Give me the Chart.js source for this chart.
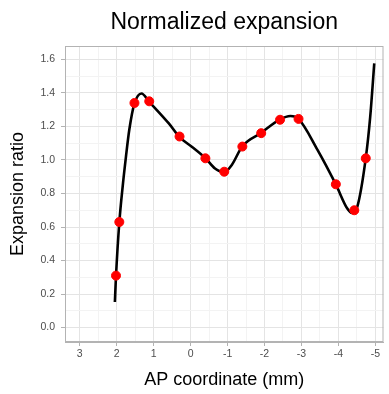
<!DOCTYPE html>
<html>
<head>
<meta charset="utf-8">
<script src="https://cdn.jsdelivr.net/npm/chart.js@4/dist/chart.umd.min.js"></script>
<style>
  html, body { margin: 0; padding: 0; background: #fff; }
</style>
</head>
<body>
<canvas id="chart" width="389" height="394"></canvas>
<script>
// Measured points (AP coordinate in mm, expansion ratio)
const apCoord = [2.02, 1.93, 1.52, 1.12, 0.30, -0.40, -0.91, -1.40, -1.91, -2.42, -2.92, -3.93, -4.43, -4.74];
const expRatio = [0.31, 0.63, 1.34, 1.35, 1.14, 1.01, 0.93, 1.08, 1.16, 1.24, 1.245, 0.855, 0.70, 1.01];

// Smoothed fit curve
const curveX = [2.05, 2.02, 1.93, 1.84, 1.75, 1.66, 1.52, 1.33, 1.12, 0.59, 0.30, -0.04, -0.40, -0.66, -0.91, -1.11, -1.40, -1.91, -2.42, -2.70, -2.92, -3.43, -3.93, -4.24, -4.37, -4.51, -4.74, -4.86, -4.97];
const curveY = [0.153, 0.306, 0.627, 0.84, 1.02, 1.18, 1.337, 1.397, 1.347, 1.218, 1.136, 1.078, 1.011, 0.949, 0.927, 0.969, 1.082, 1.162, 1.242, 1.262, 1.245, 1.062, 0.854, 0.71, 0.684, 0.72, 1.011, 1.257, 1.576];

const xTicks = [3, 2, 1, 0, -1, -2, -3, -4, -5];
const yTicks = [0, 0.2, 0.4, 0.6, 0.8, 1.0, 1.2, 1.4, 1.6];

const FONT = "'Liberation Sans', Arial, sans-serif";

// major ticks plus ggplot-style minor breaks halfway between them
function withMinor(majors) {
    const s = majors.slice().sort((a, b) => a - b);
    const out = [];
    s.forEach((v, i) => {
        out.push({ value: v, minor: false });
        if (i < s.length - 1) out.push({ value: (v + s[i + 1]) / 2, minor: true });
    });
    return out;
}

const panelBorder = {
    id: "panelBorder",
    afterDraw(chart) {
        const { ctx, chartArea: a } = chart;
        ctx.save();
        ctx.strokeStyle = "#b3b3b3";
        ctx.lineWidth = 1;
        ctx.strokeRect(a.left + 0.5, a.top + 0.5, a.right - a.left - 1, a.bottom - a.top - 1);
        ctx.restore();
    }
};

const gridColor = c => (c.tick && c.tick.minor ? "#f3f3f3" : "#e4e4e4");
const tickColor = c => (c.tick && c.tick.minor ? "rgba(0,0,0,0)" : "#b3b3b3");

new Chart(document.getElementById("chart"), {
    type: "scatter",
    data: {
        datasets: [
            {
                label: "points",
                data: apCoord.map((x, i) => ({ x: x, y: expRatio[i] })),
                backgroundColor: "#ff0000",
                borderColor: "#ff0000",
                pointRadius: 4.5,
                order: 0
            },
            {
                label: "fit",
                type: "line",
                data: curveX.map((x, i) => ({ x: x, y: curveY[i] })),
                borderColor: "#000000",
                borderWidth: 2.6,
                pointRadius: 0,
                cubicInterpolationMode: "monotone",
                fill: false,
                order: 1
            }
        ]
    },
    options: {
        responsive: false,
        animation: false,
        layout: { padding: { left: 0, right: 3, top: 0, bottom: 0 } },
        plugins: {
            legend: { display: false },
            tooltip: { enabled: false },
            title: {
                display: true,
                text: "Normalized expansion",
                fullSize: false,
                color: "#000",
                font: { family: FONT, size: 23, weight: "normal" },
                padding: { top: 9, bottom: 9.4 }
            }
        },
        scales: {
            x: {
                type: "linear",
                reverse: true,
                min: -5.22,
                max: 3.4,
                afterFit: s => { s.height = 52; },
                afterBuildTicks: s => { s.ticks = withMinor(xTicks); },
                ticks: {
                    color: "#4d4d4d",
                    font: { family: FONT, size: 10.5 },
                    padding: 2,
                    maxRotation: 0,
                    autoSkip: false,
                    callback: (v, i, t) => (t[i].minor ? "" : String(v))
                },
                grid: { color: gridColor, tickColor: tickColor, tickLength: 4, lineWidth: 1 },
                border: { color: "#b3b3b3" },
                title: {
                    display: true,
                    text: "AP coordinate (mm)",
                    color: "#000",
                    font: { family: FONT, size: 18 },
                    padding: { top: 0, bottom: 3 }
                }
            },
            y: {
                type: "linear",
                min: -0.086,
                max: 1.68,
                afterFit: s => { s.width = 65; },
                afterBuildTicks: s => { s.ticks = withMinor(yTicks); },
                ticks: {
                    color: "#4d4d4d",
                    font: { family: FONT, size: 10.5 },
                    padding: 6,
                    autoSkip: false,
                    callback: (v, i, t) => (t[i].minor ? "" : v.toFixed(1))
                },
                grid: { color: gridColor, tickColor: tickColor, tickLength: 4, lineWidth: 1 },
                border: { color: "#b3b3b3" },
                title: {
                    display: true,
                    text: "Expansion ratio",
                    color: "#000",
                    font: { family: FONT, size: 18 },
                    padding: { top: 7, bottom: 0 }
                }
            }
        }
    },
    plugins: [panelBorder]
});
</script>
</body>
</html>
